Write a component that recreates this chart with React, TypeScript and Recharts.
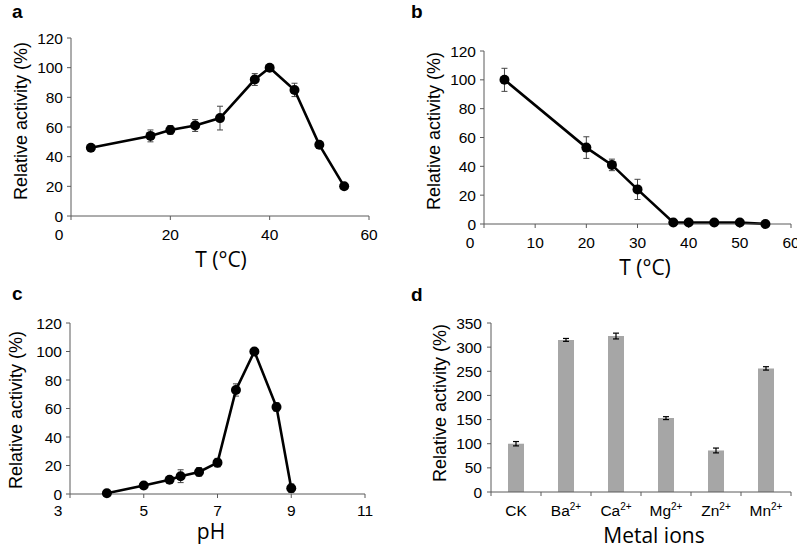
import React from 'react';
import { LineChart, Line, XAxis, YAxis, ErrorBar, BarChart, Bar } from 'recharts';

// ---- Data ----
const tempA = [4, 16, 20, 25, 30, 37, 40, 45, 50, 55];
const activityA = [46, 54, 58, 61, 66, 92, 100, 85, 48, 20];
const errorA = [0, 4, 3, 4, 8, 4, 2, 4.5, 1, 1];

const tempB = [4, 20, 25, 30, 37, 40, 45, 50, 55];
const activityB = [100, 53, 41, 24, 1, 1, 1, 1, 0];
const errorB = [8, 7.5, 4, 7, 0, 0, 0, 0, 0];

const phC = [4, 5, 5.7, 6, 6.5, 7, 7.5, 8, 8.6, 9];
const activityC = [0.5, 6, 10, 12.5, 15.5, 22, 73, 100, 61, 4];
const errorC = [0, 0, 1.5, 4.5, 3, 3, 4.3, 1, 3, 3];

const metalIons = ['CK', 'Ba', 'Ca', 'Mg', 'Zn', 'Mn'];
const metalCharges = ['', '2+', '2+', '2+', '2+', '2+'];
const activityD = [100, 315, 323, 153, 86, 256];
const errorD = [4.5, 3, 6, 3, 5, 3.5];

const tempTicksA = [0, 20, 40, 60];
const tempTicksB = [0, 10, 20, 30, 40, 50, 60];
const phTicks = [3, 5, 7, 9, 11];
const pctTicks = [0, 20, 40, 60, 80, 100, 120];
const pctTicksD = [0, 50, 100, 150, 200, 250, 300, 350];

const panelLetters = ['a', 'b', 'c', 'd'];
const yTitle = 'Relative activity (%)';
const xTitleT = 'T (°C)';
const xTitlePH = 'pH';
const xTitleMetal = 'Metal ions';

// ---- Built tables ----
const dataA = tempA.map((x, i) => ({ x, y: activityA[i], e: errorA[i] }));
const dataB = tempB.map((x, i) => ({ x, y: activityB[i], e: errorB[i] }));
const dataC = phC.map((x, i) => ({ x, y: activityC[i], e: errorC[i] }));
const dataD = metalIons.map((name, i) => ({ name, charge: metalCharges[i], y: activityD[i], e: errorD[i] }));

// ---- Styles ----
const ARIAL = '"Liberation Sans", Arial, sans-serif';
const SANS = '"Open Sans", "Noto Sans", sans-serif';
const AXIS = '#5a5a5a';
const TICK_FS = 15.5;
const YT_FS = 18;
const XT_FS = 21;

const makeXTick = (firstValue: number, shift: number) => (props: any) => {
  const { x, y, payload } = props;
  const dx = payload.value === firstValue ? shift : 0;
  return (
    <text x={x + dx} y={y} dy="0.71em" textAnchor="middle" fill="#000" fontSize={TICK_FS} fontFamily={ARIAL}>
      {payload.value}
    </text>
  );
};

const yTitleLabel = (cx: number, cy: number) => ({
  content: () => (
    <text
      transform={`translate(${cx},${cy}) rotate(-90)`}
      textAnchor="middle"
      dominantBaseline="central"
      fill="#000"
      fontSize={YT_FS}
      fontFamily={ARIAL}
    >
      {yTitle}
    </text>
  ),
});

const xTitleLabel = (text: string, cx: number, baseline: number) => ({
  content: () => (
    <text x={cx} y={baseline} textAnchor="middle" fill="#000" fontSize={XT_FS} fontFamily={SANS}>
      {text}
    </text>
  ),
});

const MetalTick = (props: any) => {
  const { x, y, payload, index } = props;
  const item = dataD.find((d) => d.name === payload.value);
  const half = typeof payload.offset === 'number' && payload.offset > 0 ? payload.offset : 25;
  const axisY = y - 13;
  const isLast = index === metalIons.length - 1 || payload.value === metalIons[metalIons.length - 1];
  return (
    <g>
      <line x1={x - half} x2={x - half} y1={axisY} y2={axisY + 4} stroke={AXIS} />
      {isLast && <line x1={x + half} x2={x + half} y1={axisY} y2={axisY + 4} stroke={AXIS} />}
      <text x={x} y={y} dy="0.71em" textAnchor="middle" fill="#000" fontSize={TICK_FS} fontFamily={ARIAL}>
        <tspan>{payload.value}</tspan>
        {item && item.charge ? (
          <tspan dy={-6} fontSize={10}>
            {item.charge}
          </tspan>
        ) : null}
      </text>
    </g>
  );
};

const yTickStyle = { fill: '#000', fontSize: TICK_FS, fontFamily: ARIAL };

const lineProps = {
  type: 'linear' as const,
  dataKey: 'y',
  stroke: '#000',
  strokeWidth: 2.6,
  dot: { r: 5, fill: '#000', stroke: '#000', strokeWidth: 0 },
  activeDot: false as const,
  isAnimationActive: false,
};

export default function App() {
  return (
    <div style={{ position: 'absolute', left: 0, top: 0, width: 797, height: 550, background: '#fff', overflow: 'hidden' }}>
      {/* Panel a */}
      <div style={{ position: 'absolute', left: 0, top: 0 }}>
        <LineChart width={400} height={275} data={dataA} margin={{ top: 38, right: 31, bottom: 0, left: 0 }}>
          <XAxis
            type="number"
            dataKey="x"
            domain={[0, 60]}
            ticks={tempTicksA}
            interval={0}
            height={59}
            stroke={AXIS}
            tickSize={4}
            tickMargin={9}
            tick={makeXTick(0, -12)}
            label={xTitleLabel(xTitleT, 221, 267)}
          />
          <YAxis
            type="number"
            domain={[0, 120]}
            ticks={pctTicks}
            interval={0}
            width={71}
            stroke={AXIS}
            tickSize={4}
            tickMargin={4}
            tick={yTickStyle}
            label={yTitleLabel(21, 121)}
          />
          <Line {...lineProps}>
            <ErrorBar dataKey="e" width={3} stroke="#444" strokeWidth={1} direction="y" isAnimationActive={false} />
          </Line>
        </LineChart>
      </div>

      {/* Panel b */}
      <div style={{ position: 'absolute', left: 400, top: 0 }}>
        <LineChart width={397} height={290} data={dataB} margin={{ top: 51, right: 6, bottom: 0, left: 0 }}>
          <XAxis
            type="number"
            dataKey="x"
            domain={[0, 60]}
            ticks={tempTicksB}
            interval={0}
            height={66}
            stroke={AXIS}
            tickSize={4}
            tickMargin={9}
            tick={makeXTick(0, -14)}
            label={xTitleLabel(xTitleT, 245, 275)}
          />
          <YAxis
            type="number"
            domain={[0, 120]}
            ticks={pctTicks}
            interval={0}
            width={84}
            stroke={AXIS}
            tickSize={4}
            tickMargin={4}
            tick={yTickStyle}
            label={yTitleLabel(34, 131)}
          />
          <Line {...lineProps}>
            <ErrorBar dataKey="e" width={3} stroke="#444" strokeWidth={1} direction="y" isAnimationActive={false} />
          </Line>
        </LineChart>
      </div>

      {/* Panel c */}
      <div style={{ position: 'absolute', left: 0, top: 275 }}>
        <LineChart width={400} height={275} data={dataC} margin={{ top: 48, right: 35, bottom: 0, left: 0 }}>
          <XAxis
            type="number"
            dataKey="x"
            domain={[3, 11]}
            ticks={phTicks}
            interval={0}
            height={56}
            stroke={AXIS}
            tickSize={4}
            tickMargin={7}
            tick={makeXTick(3, -12)}
            label={xTitleLabel(xTitlePH, 211, 264)}
          />
          <YAxis
            type="number"
            domain={[0, 120]}
            ticks={pctTicks}
            interval={0}
            width={70}
            stroke={AXIS}
            tickSize={4}
            tickMargin={4}
            tick={yTickStyle}
            label={yTitleLabel(16, 135)}
          />
          <Line {...lineProps}>
            <ErrorBar dataKey="e" width={3} stroke="#444" strokeWidth={1} direction="y" isAnimationActive={false} />
          </Line>
        </LineChart>
      </div>

      {/* Panel d */}
      <div style={{ position: 'absolute', left: 400, top: 275 }}>
        <BarChart width={397} height={275} data={dataD} margin={{ top: 48, right: 6, bottom: 0, left: 0 }}>
          <XAxis
            type="category"
            dataKey="name"
            interval={0}
            height={58}
            stroke={AXIS}
            tickLine={false}
            tickSize={0}
            tickMargin={13}
            tick={MetalTick}
            label={xTitleLabel(xTitleMetal, 254, 268)}
          />
          <YAxis
            type="number"
            domain={[0, 350]}
            ticks={pctTicksD}
            interval={0}
            width={91}
            stroke={AXIS}
            tickSize={4}
            tickMargin={5}
            tick={yTickStyle}
            label={yTitleLabel(40, 128)}
          />
          <Bar dataKey="y" fill="#a6a6a6" barSize={16} isAnimationActive={false}>
            <ErrorBar dataKey="e" width={3} stroke="#000" strokeWidth={1.2} direction="y" isAnimationActive={false} />
          </Bar>
        </BarChart>
      </div>

      {/* Panel letters */}
      <svg width={797} height={550} style={{ position: 'absolute', left: 0, top: 0, pointerEvents: 'none' }}>
        <text x={12} y={18} fontSize={19} fontWeight="bold" fontFamily={ARIAL} fill="#000">{panelLetters[0]}</text>
        <text x={411} y={18} fontSize={19} fontWeight="bold" fontFamily={ARIAL} fill="#000">{panelLetters[1]}</text>
        <text x={12} y={300} fontSize={19} fontWeight="bold" fontFamily={ARIAL} fill="#000">{panelLetters[2]}</text>
        <text x={411} y={301} fontSize={19} fontWeight="bold" fontFamily={ARIAL} fill="#000">{panelLetters[3]}</text>
      </svg>
    </div>
  );
}
